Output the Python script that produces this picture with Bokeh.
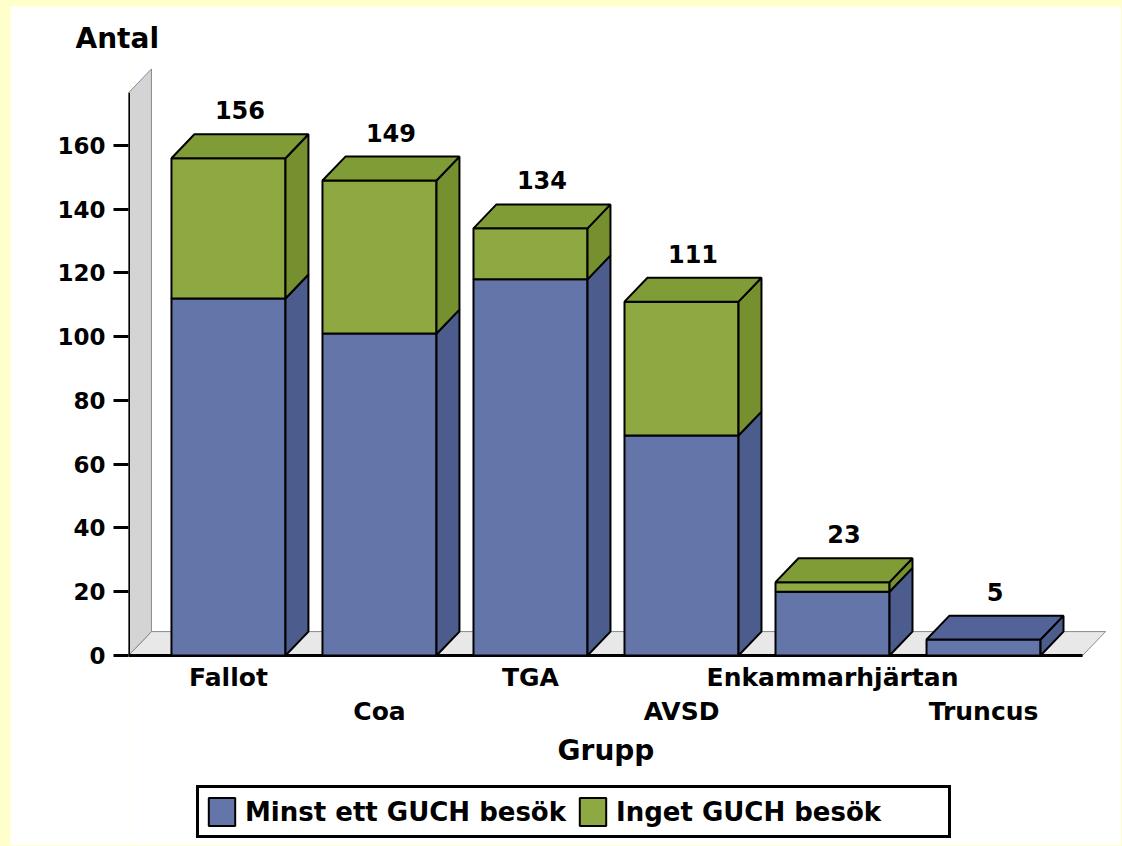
from bokeh.plotting import figure
from bokeh.models import Range1d, FixedTicker, Legend, LegendItem, ColumnDataSource, Title
from bokeh.core.properties import value
from bokeh.embed import file_html
from bokeh.resources import INLINE

# ---------------- data ----------------
categories = ["Fallot", "Coa", "TGA", "AVSD", "Enkammarhjärtan", "Truncus"]
minst_ett_besok = [112, 101, 118, 69, 20, 5]
inget_besok = [44, 48, 16, 42, 3, 0]
series_names = ["Minst ett GUCH besök", "Inget GUCH besök"]
y_ticks = [0, 20, 40, 60, 80, 100, 120, 140, 160]
y_title = "Antal"
x_title = "Grupp"

# ---------------- style ----------------
FONT = "DejaVu Sans"
BAR_W = 0.755        # front-face width, category units
DX = 0.152           # 3D depth, category units
DY = 7.5             # 3D depth, value units
PAD = 0.662          # floor extension beyond first/last category centre
WALL_TOP = 176.5
FRONT = ["#6475AA", "#8EA942"]
SIDE = ["#4C5C8C", "#768F2F"]
TOP = ["#53639A", "#809C36"]

n = len(categories)
series = [minst_ett_besok, inget_besok]
totals = [sum(v) for v in zip(*series)]

p = figure(width=1111, height=839, output_backend="svg", toolbar_location=None,
           x_range=Range1d(-PAD, n - 1 + 0.854), y_range=Range1d(-59.6, 187.9),
           x_axis_location=None, min_border_left=118, min_border_right=9,
           min_border_top=50, min_border_bottom=0,
           background_fill_color="white", border_fill_color="white",
           outline_line_color=None)
p.grid.visible = False

# floor
fx0, fx1 = -PAD, n - 1 + 0.656
p.patch([fx0, fx1, fx1 + DX, fx0 + DX], [0, 0, DY, DY],
        fill_color="#E8E8E8", line_color="#8a8a8a", line_width=1)
# wall
p.patch([fx0, fx0 + DX, fx0 + DX, fx0], [0, DY, WALL_TOP + DY, WALL_TOP],
        fill_color="#D4D4D4", line_color="#8a8a8a", line_width=1)
p.line([fx0, fx0], [0, WALL_TOP], line_color="black", line_width=3)
p.line([fx0, fx1], [0, 0], line_color="black", line_width=3)

# bars
legend_items = []
bottoms = [0] * n
for s, vals in enumerate(series):
    fxs, fys, sxs, sys_, txs, tys = [], [], [], [], [], []
    for i, v in enumerate(vals):
        if v <= 0:
            continue
        b = bottoms[i]
        t = b + v
        x0, x1 = i - BAR_W / 2, i + BAR_W / 2
        fxs.append([x0, x1, x1, x0]); fys.append([b, b, t, t])
        sxs.append([x1, x1 + DX, x1 + DX, x1]); sys_.append([b, b + DY, t + DY, t])
        if t == totals[i]:
            txs.append([x0, x1, x1 + DX, x0 + DX]); tys.append([t, t, t + DY, t + DY])
    r = p.patches(fxs, fys, fill_color=FRONT[s], line_color="black", line_width=2)
    p.patches(sxs, sys_, fill_color=SIDE[s], line_color="black", line_width=2)
    if txs:
        p.patches(txs, tys, fill_color=TOP[s], line_color="black", line_width=2)
    legend_items.append(LegendItem(label=series_names[s], renderers=[r]))
    bottoms = [bo + v for bo, v in zip(bottoms, vals)]

# total labels
src = ColumnDataSource(dict(x=[i + DX / 2 for i in range(n)],
                            y=[t + DY for t in totals],
                            txt=[str(t) for t in totals]))
p.text("x", "y", text="txt", source=src, text_align="center", text_baseline="alphabetic",
       y_offset=-24, text_font=value(FONT), text_font_style="bold",
       text_font_size="24px", text_color="black")

# staggered category labels + axis title
idx = list(range(n))
for part, off in [(idx[0::2], 22), (idx[1::2], 56)]:
    csrc = ColumnDataSource(dict(x=part, y=[0] * len(part),
                                 txt=[categories[i] for i in part]))
    p.text("x", "y", text="txt", source=csrc, text_align="center",
           text_baseline="alphabetic", y_offset=off, text_font=value(FONT),
           text_font_style="bold", text_font_size="25px", text_color="black")
p.text(x=[(n - 1) / 2], y=[0], text=[x_title], text_align="center",
       text_baseline="alphabetic", y_offset=95, text_font=value(FONT),
       text_font_style="bold", text_font_size="28px", text_color="black")

# y axis
ya = p.yaxis[0]
ya.ticker = FixedTicker(ticks=y_ticks)
ya.axis_line_color = None
ya.major_tick_out = 15
ya.major_tick_in = 0
ya.major_tick_line_width = 3
ya.minor_tick_line_color = None
ya.major_label_standoff = 8
ya.major_label_text_font = FONT
ya.major_label_text_font_style = "bold"
ya.major_label_text_font_size = "23px"
ya.major_label_text_color = "black"

p.title = Title(text=y_title, align="left", offset=-53, text_font=FONT,
                text_font_style="bold", text_font_size="28px", text_color="black",
                standoff=4)

legend = Legend(items=legend_items, orientation="horizontal", location=(68, 7),
                border_line_color="black", border_line_width=3, border_line_alpha=1,
                label_text_font=FONT, label_text_font_size="26px",
                label_text_font_style="bold",
                label_text_color="black", glyph_width=33, glyph_height=35,
                spacing=5, padding=6, label_standoff=7, label_width=326, margin=0,
                background_fill_color="white", background_fill_alpha=1)
p.add_layout(legend)

html = file_html(p, INLINE)
html = html.replace("</head>",
                    "<style>html,body{background:#FFFFCC;}body{padding:6px 0 0 10px;}</style></head>", 1)
open("out.html", "w").write(html)
